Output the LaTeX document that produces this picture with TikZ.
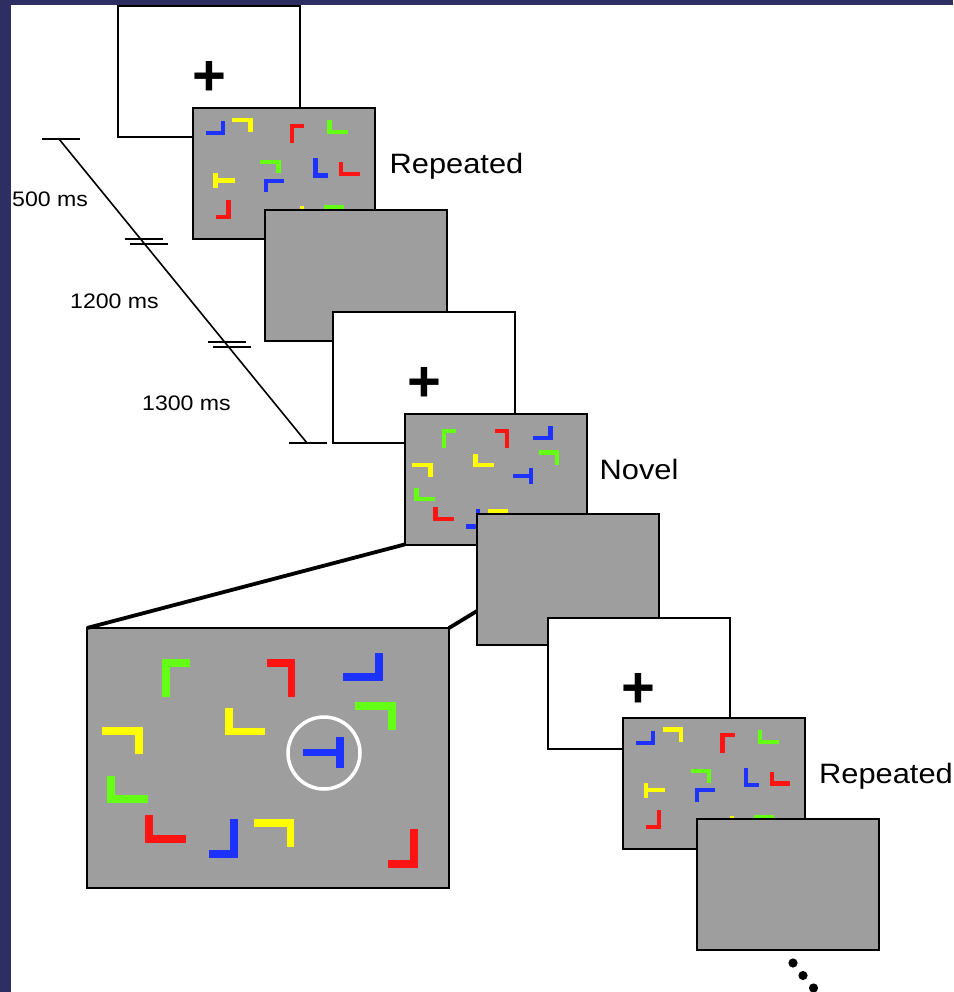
\documentclass[tikz,border=0pt]{standalone}
\usepackage{fontspec}
\setmainfont{Liberation Sans}
\newfontfamily\stretchsans[FakeStretch=1.1]{Liberation Sans}

\definecolor{slidenavy}{RGB}{46,46,98}
\definecolor{screengray}{RGB}{158,158,158}
\definecolor{itemred}{RGB}{255,20,20}
\definecolor{itemgreen}{RGB}{100,255,20}
\definecolor{itemblue}{RGB}{30,50,255}
\definecolor{itemyellow}{RGB}{255,255,0}

\tikzset{
  screen/.style={draw, line width=2pt, minimum width=182pt, minimum height=131pt, inner sep=0pt, outer sep=0pt},
  fixframe/.style={screen, fill=white},
  searchframe/.style={screen, fill=screengray},
  fixcross/.style={font=\bfseries\fontsize{58}{60}\selectfont, inner sep=0pt},
  stimlabel/.style={font=\stretchsans\fontsize{28}{32}\selectfont, inner sep=0pt, anchor=base west},
  timelabel/.style={font=\stretchsans\fontsize{21}{24}\selectfont, inner sep=0pt, anchor=base west},
  timeline/.style={line width=1.6pt},
  zoomline/.style={line width=3.8pt},
  item/.style={line width=7.5pt, line join=miter},
}

% search display shown on repeated trials (full-size units)
\newcommand{\repeateditems}{%
  \draw[item, itemblue] (26,50.5) -- (60.5,50.5) -- (60.5,27);
  \draw[item, itemyellow] (79,24) -- (116,24) -- (116,49);
  \draw[item, itemred] (199,71) -- (199,35.5) -- (223,35.5);
  \draw[item, itemgreen] (274,25) -- (274,48.5) -- (311,48.5);
  \draw[item, itemgreen] (135,107.5) -- (172,107.5) -- (172,131);
  \draw[item, itemblue] (246,101) -- (246,135) -- (271,135);
  \draw[item, itemred] (297.5,109) -- (297.5,132) -- (334,132);
  \draw[item, itemyellow] (46,131) -- (46,161) (46,145) -- (84,145);
  \draw[item, itemblue] (147.5,169) -- (147.5,145.5) -- (183,145.5);
  \draw[item, itemred] (46,218.5) -- (72,218.5) -- (72,184);
  \draw[item, itemyellow] (182,233) -- (218.5,233) -- (218.5,197);
  \draw[item, itemgreen] (262,199) -- (298.5,199) -- (298.5,226);
}
% search display shown on the novel trial
\newcommand{\novelitems}{%
  \draw[item, itemgreen] (79,69) -- (79,35) -- (103,35);
  \draw[item, itemred] (180,35) -- (204.5,35) -- (204.5,69);
  \draw[item, itemblue] (256,49) -- (292,49) -- (292,25);
  \draw[item, itemgreen] (268,78) -- (305,78) -- (305,102);
  \draw[item, itemyellow] (142,80) -- (142,103.5) -- (178,103.5);
  \draw[item, itemyellow] (15,103) -- (52,103) -- (52,126);
  \draw[item, itemblue] (216,124.5) -- (253,124.5) (253,109) -- (253,140);
  \draw[item, itemgreen] (24,148) -- (24,171) -- (61,171);
  \draw[item, itemred] (62,187) -- (62,211) -- (99,211);
  \draw[item, itemblue] (122,226) -- (147,226) -- (147,191);
  \draw[item, itemyellow] (167,195) -- (203.5,195) -- (203.5,219);
  \draw[item, itemred] (301,236) -- (327,236) -- (327,201);
}

\begin{document}
\begin{tikzpicture}[x=1pt, y=-1pt]
  \useasboundingbox (0,0) rectangle (953,992);
  \fill[slidenavy] (0,0) rectangle (953,992);
  \fill[white] (11,5) rectangle (953,992);

  % time line
  \coordinate (tstart) at (59,139);
  \coordinate (tend) at (307,443);
  \draw[timeline] (tstart) -- (tend) coordinate[pos=0.337] (tcut1) coordinate[pos=0.676] (tcut2);
  \draw[timeline] ([shift={(-17,0)}]tstart) -- ([shift={(21,0)}]tstart);
  \draw[timeline] ([shift={(-18,-2.5)}]tcut1) -- ([shift={(20,-2.5)}]tcut1);
  \draw[timeline] ([shift={(-13,2.5)}]tcut1) -- ([shift={(25,2.5)}]tcut1);
  \draw[timeline] ([shift={(-19,-2.5)}]tcut2) -- ([shift={(19,-2.5)}]tcut2);
  \draw[timeline] ([shift={(-14,2.5)}]tcut2) -- ([shift={(24,2.5)}]tcut2);
  \draw[timeline] ([shift={(-18,0)}]tend) -- ([shift={(20,0)}]tend);
  \node[timelabel] (t500) at (12,207) {500 ms};
  \node[timelabel] (t1200) at (70,308) {1200 ms};
  \node[timelabel] (t1300) at (142,410) {1300 ms};

  % first trial
  \node[fixframe] (fix1) at (209,71.5) {};
  \node[fixcross] (plus1) at ([yshift=-7pt]fix1.center) {+};
  \node[searchframe] (search1) at (283.5,173.5) {};
  \begin{scope}[shift={(search1.north west)}, scale=0.5, item/.append style={line width=4.3pt}]
    \repeateditems
  \end{scope}
  \node[stimlabel] (lab1) at ([xshift=15pt]search1.east) {Repeated};
  \node[searchframe] (blank1) at (356,275.5) {};

  % second trial
  \node[fixframe] (fix2) at (424,377) {};
  \node[fixcross] (plus2) at ([yshift=-7pt]fix2.center) {+};
  \node[searchframe] (novel) at (495.5,479) {};
  \begin{scope}[shift={(novel.north west)}, scale=0.5, item/.append style={line width=4.3pt}]
    \novelitems
  \end{scope}
  \node[stimlabel] (lab2) at ([xshift=13pt]novel.east) {Novel};

  % enlarged display
  \node[searchframe, minimum width=362pt, minimum height=260pt, line width=2.5pt] (zoom) at (268,758) {};
  \begin{scope}[shift={(zoom.north west)}]
    \novelitems
    \draw[white, line width=3.5pt] (237,125) circle[radius=36pt];
  \end{scope}
  \draw[zoomline] (zoom.north west) -- (novel.south west);
  \draw[zoomline] (zoom.north east) -- (novel.south east);

  \node[searchframe] (blank2) at (567.5,579.5) {};

  % third trial
  \node[fixframe] (fix3) at (638.5,683.5) {};
  \node[fixcross] (plus3) at ([yshift=-7pt]fix3.center) {+};
  \node[searchframe] (search3) at (714,783) {};
  \begin{scope}[shift={(search3.north west)}, scale=0.5, item/.append style={line width=4.3pt}]
    \repeateditems
  \end{scope}
  \node[stimlabel] (lab3) at ([xshift=14pt]search3.east) {Repeated};
  \node[searchframe] (blank3) at (787.5,884.5) {};

  \fill (793,963) circle[radius=4.6pt] (803,975.5) circle[radius=4.6pt] (813.5,988) circle[radius=4.6pt];
\end{tikzpicture}
\end{document}
